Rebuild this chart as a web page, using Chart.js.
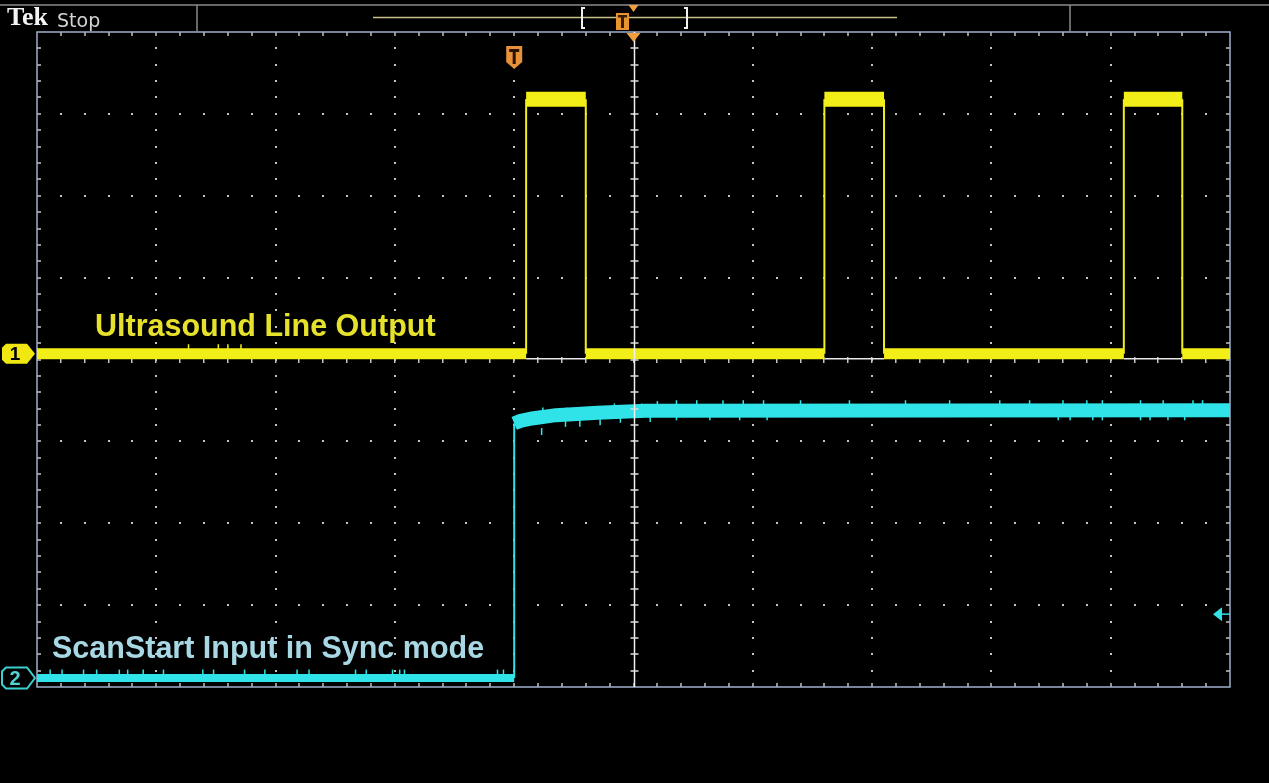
<!DOCTYPE html>
<html>
<head>
<meta charset="utf-8">
<title>Ultrasound line output vs ScanStart input</title>
<script src="https://cdn.jsdelivr.net/npm/chart.js@4.4.1/dist/chart.umd.min.js"></script>
<style>
  html, body { margin: 0; padding: 0; background: #000; overflow: hidden; }
  canvas { display: block; }
</style>
</head>
<body>
<canvas id="scope" width="1269" height="783"></canvas>
<script>
// Screen is 10 horizontal x 8 vertical divisions; values below are in divisions.
const xDivisions = 10;
const yMin = -4, yMax = 4;

// Channel 1: ultrasound line output (square pulses)
const ch1Time  = [0, 4.10, 4.10, 4.60, 4.60, 6.60, 6.60, 7.10, 7.10, 9.11, 9.11, 9.60, 9.60, 10];
const ch1Level = [0.07, 0.07, 3.18, 3.18, 0.07, 0.07, 3.18, 3.18, 0.07, 0.07, 3.18, 3.18, 0.07, 0.07];
// faint floor under each pulse (start, end pairs)
const ch1FloorTime = [4.10, 4.60, 6.60, 7.10, 9.11, 9.60];
const ch1FloorLevel = 0.01;
// small glitches on the channel 1 baseline
const ch1SpikeTime  = [1.27, 1.52, 1.60, 1.71];
const ch1SpikeLevel = [0.15, 0.15, 0.15, 0.15];

// Channel 2: ScanStart input (step with slow settling)
const ch2Time  = [0, 4.00, 4.00, 4.05, 4.15, 4.35, 4.70, 5.10, 10];
const ch2Level = [-3.89, -3.89, -0.78, -0.75, -0.72, -0.68, -0.65, -0.625, -0.62];
// noise hairs on channel 2
const ch2SpikeUpTime  = [0.11, 0.21, 0.39, 0.50, 0.69, 0.76, 0.89, 1.06, 1.39, 1.48, 1.74, 1.91, 2.18, 2.28, 2.67, 2.76, 2.98, 3.04, 3.08, 3.86, 3.91,
                         4.13, 4.24, 4.44, 4.64, 4.74, 4.84, 5.07, 5.20, 5.36, 5.53, 5.75, 5.92, 6.09, 6.40, 6.81, 7.28, 7.65, 8.07, 8.32, 8.60, 8.80, 8.93, 9.25, 9.44, 9.69, 9.77];
const ch2SpikeUpLevel = [-3.83, -3.83, -3.83, -3.83, -3.83, -3.83, -3.83, -3.83, -3.83, -3.83, -3.83, -3.83, -3.83, -3.83, -3.83, -3.83, -3.83, -3.83, -3.83, -3.83, -3.83,
                         -0.70, -0.63, -0.63, -0.63, -0.63, -0.58, -0.58, -0.55, -0.54, -0.54, -0.54, -0.54, -0.54, -0.54, -0.54, -0.54, -0.54, -0.54, -0.54, -0.54, -0.54, -0.54, -0.54, -0.54, -0.54, -0.54];
const ch2SpikeDownTime  = [4.23, 4.43, 4.55, 4.72, 4.89, 5.14, 5.36, 5.64, 5.89, 6.12, 8.56, 8.66, 8.85, 8.93, 9.25, 9.33, 9.48, 9.62];
const ch2SpikeDownLevel = [-0.88, -0.78, -0.78, -0.76, -0.73, -0.72, -0.70, -0.70, -0.70, -0.70, -0.70, -0.70, -0.70, -0.70, -0.70, -0.70, -0.70, -0.70];

// Trigger settings
const triggerTime = 4.0;
const triggerLevel = -3.11;

const labelCh1 = 'Ultrasound Line Output';
const labelCh2 = 'ScanStart Input in Sync mode';

const yellow = '#f2ee18';
const cyan = '#2fe3e8';

const pts = (xs, ys) => xs.map((t, i) => ({ x: t, y: ys[i] }));
const pairs = (xs, level) => {
  const out = [];
  for (let i = 0; i + 1 < xs.length; i += 2) {
    out.push({ x: xs[i], y: level }, { x: xs[i + 1], y: level }, { x: xs[i + 1], y: null });
  }
  return out;
};

// thin vertical edges, thick horizontal levels
const traceWidth = (high, low, split) => ctx => {
  if (ctx.p0.parsed.x === ctx.p1.parsed.x) return 2;
  return ctx.p0.parsed.y > split ? high : low;
};

const background = {
  id: 'background',
  beforeDraw(chart) {
    const c = chart.ctx;
    c.save();
    c.fillStyle = '#000';
    c.fillRect(0, 0, chart.width, chart.height);
    c.restore();
  }
};

const graticule = {
  id: 'graticule',
  beforeDatasetsDraw(chart) {
    const { ctx: c, chartArea: a, scales: { x, y } } = chart;
    c.save();
    c.fillStyle = '#c4c4c4';
    const nx = xDivisions * 5, ny = (yMax - yMin) * 5;
    // dotted division lines
    for (let i = 1; i < xDivisions; i++) {
      if (i * 2 === xDivisions) continue;
      const px = Math.round(x.getPixelForValue(i));
      for (let k = 1; k < ny; k++) {
        const py = Math.round(y.getPixelForValue(yMin + k / 5));
        c.fillRect(px - 1, py - 1, 2, 2);
      }
    }
    for (let j = yMin + 1; j < yMax; j++) {
      if (j === 0) continue;
      const py = Math.round(y.getPixelForValue(j));
      for (let k = 1; k < nx; k++) {
        const px = Math.round(x.getPixelForValue(k / 5));
        c.fillRect(px - 1, py - 1, 2, 2);
      }
    }
    // centre horizontal axis with minor ticks
    const cy = Math.round(y.getPixelForValue(0));
    for (let k = 1; k < nx; k++) {
      const px = Math.round(x.getPixelForValue(k / 5));
      c.fillRect(px - 1, cy - 3, 1.5, 6);
    }
    // frame minor ticks
    for (let k = 1; k < nx; k++) {
      const px = Math.round(x.getPixelForValue(k / 5));
      c.fillRect(px - 0.75, a.top, 1.5, 4);
      c.fillRect(px - 0.75, a.bottom - 4, 1.5, 4);
    }
    for (let k = 1; k < ny; k++) {
      const py = Math.round(y.getPixelForValue(yMin + k / 5));
      c.fillRect(a.left, py - 0.75, 4, 1.5);
      c.fillRect(a.right - 4, py - 0.75, 4, 1.5);
    }
    // frame
    c.strokeStyle = '#9eb0cc';
    c.lineWidth = 1.5;
    c.strokeRect(a.left, a.top, a.right - a.left, a.bottom - a.top);
    c.restore();
  },
  afterDatasetsDraw(chart) {
    const { ctx: c, chartArea: a, scales: { x, y } } = chart;
    c.save();
    // centre vertical axis
    const cx = Math.round(x.getPixelForValue(xDivisions / 2)) + 0.5;
    c.strokeStyle = '#f0f0f0';
    c.lineWidth = 1.5;
    c.beginPath();
    c.moveTo(cx, a.top);
    c.lineTo(cx, a.bottom);
    c.stroke();
    c.fillStyle = '#e0e0e0';
    for (let k = 1; k < (yMax - yMin) * 5; k++) {
      const py = Math.round(y.getPixelForValue(yMin + k / 5));
      c.fillRect(cx - 4, py - 0.75, 8, 1.5);
    }
    c.restore();
  }
};

function hexTag(c, x0, yc, w, h) {
  c.beginPath();
  c.moveTo(x0 + 4, yc - h / 2);
  c.lineTo(x0 + w - 8, yc - h / 2);
  c.lineTo(x0 + w, yc);
  c.lineTo(x0 + w - 8, yc + h / 2);
  c.lineTo(x0 + 4, yc + h / 2);
  c.lineTo(x0, yc + h / 2 - 4);
  c.lineTo(x0, yc - h / 2 + 4);
  c.closePath();
}

const decorations = {
  id: 'decorations',
  afterDraw(chart) {
    const { ctx: c, chartArea: a, scales: { x, y } } = chart;
    c.save();

    // status header
    c.strokeStyle = '#8a8a8a';
    c.lineWidth = 1.5;
    c.beginPath();
    c.moveTo(0, 5); c.lineTo(chart.width, 5);
    c.moveTo(197, 5); c.lineTo(197, a.top);
    c.moveTo(1070, 5); c.lineTo(1070, a.top);
    c.stroke();
    c.fillStyle = '#f4f4f4';
    c.font = 'bold 26px "Liberation Serif", serif';
    c.textBaseline = 'alphabetic';
    c.fillText('Tek', 7, 25);
    c.fillStyle = '#d4d4d4';
    c.font = '19px "DejaVu Sans", sans-serif';
    c.fillText('Stop', 57, 27);

    // record overview
    c.strokeStyle = '#c8c08a';
    c.lineWidth = 1.5;
    c.beginPath();
    c.moveTo(373, 17.5); c.lineTo(897, 17.5);
    c.stroke();
    c.strokeStyle = '#f0f0f0';
    c.lineWidth = 2;
    c.beginPath();
    c.moveTo(585, 8); c.lineTo(582, 8); c.lineTo(582, 28); c.lineTo(585, 28);
    c.moveTo(684, 8); c.lineTo(687, 8); c.lineTo(687, 28); c.lineTo(684, 28);
    c.stroke();
    c.fillStyle = '#e8942c';
    c.fillRect(616, 13, 13, 17);
    c.fillStyle = '#3a1a00';
    c.fillRect(618, 15, 9, 2.5);
    c.fillRect(621, 15, 3, 13);
    // expansion point markers
    const mx = x.getPixelForValue(xDivisions / 2);
    c.fillStyle = '#eea040';
    c.beginPath();
    c.moveTo(mx - 5, 5); c.lineTo(mx + 5, 5); c.lineTo(mx, 12); c.closePath(); c.fill();
    c.beginPath();
    c.moveTo(mx - 7, a.top + 1); c.lineTo(mx + 7, a.top + 1); c.lineTo(mx, a.top + 10); c.closePath(); c.fill();

    // trigger position marker
    const tx = x.getPixelForValue(triggerTime);
    c.fillStyle = '#e8903a';
    c.beginPath();
    c.moveTo(tx - 8, 46); c.lineTo(tx + 8, 46); c.lineTo(tx + 8, 62);
    c.lineTo(tx, 69); c.lineTo(tx - 8, 62); c.closePath(); c.fill();
    c.fillStyle = '#2a1200';
    c.fillRect(tx - 5, 49, 10, 3);
    c.fillRect(tx - 1.5, 49, 3, 15);

    // trigger level marker
    const ty = y.getPixelForValue(triggerLevel);
    c.fillStyle = cyan;
    c.beginPath();
    c.moveTo(a.right - 17, ty); c.lineTo(a.right - 8, ty - 7); c.lineTo(a.right - 8, ty + 7); c.closePath(); c.fill();
    c.strokeStyle = cyan;
    c.lineWidth = 1.5;
    c.beginPath();
    c.moveTo(a.right - 8, ty); c.lineTo(a.right, ty); c.stroke();

    // channel ground markers
    const y1 = y.getPixelForValue(ch1Level[0]);
    hexTag(c, 2, y1, 33, 20);
    c.fillStyle = '#f0e810';
    c.fill();
    c.fillStyle = '#000';
    c.font = 'bold 19px "Liberation Sans", sans-serif';
    c.textAlign = 'center';
    c.textBaseline = 'middle';
    c.fillText('1', 15, y1 + 1);

    const y2 = y.getPixelForValue(ch2Level[0]);
    hexTag(c, 2, y2, 33, 21);
    c.fillStyle = '#000';
    c.fill();
    c.strokeStyle = '#3ccfcf';
    c.lineWidth = 2;
    c.stroke();
    c.fillStyle = '#52d2d2';
    c.font = 'bold 20px "Liberation Sans", sans-serif';
    c.fillText('2', 15, y2 + 1);

    // trace annotations
    c.textAlign = 'left';
    c.textBaseline = 'alphabetic';
    c.font = 'bold 30.5px "Liberation Sans", Arial, sans-serif';
    c.fillStyle = '#e6e22c';
    c.fillText(labelCh1, 95, 336);
    c.fillStyle = '#a8d8e4';
    c.fillText(labelCh2, 52, 658);

    c.restore();
  }
};

new Chart(document.getElementById('scope'), {
  type: 'line',
  data: {
    datasets: [
      {
        label: 'CH1 floor',
        data: pairs(ch1FloorTime, ch1FloorLevel),
        borderColor: '#e8e8e8',
        borderWidth: 1.5,
        pointRadius: 0,
        spanGaps: false,
        order: 3
      },
      {
        label: labelCh1,
        data: pts(ch1Time, ch1Level),
        borderColor: yellow,
        borderWidth: 11,
        pointRadius: 0,
        segment: { borderWidth: traceWidth(15, 11, 1) },
        order: 2
      },
      {
        label: 'CH1 glitches',
        data: pts(ch1SpikeTime, ch1SpikeLevel),
        showLine: false,
        pointStyle: 'line',
        rotation: 90,
        radius: 3,
        borderWidth: 1.5,
        borderColor: yellow,
        order: 2
      },
      {
        label: labelCh2,
        data: pts(ch2Time, ch2Level),
        borderColor: cyan,
        borderWidth: 8,
        pointRadius: 0,
        segment: { borderWidth: traceWidth(14, 8, -2) },
        order: 1
      },
      {
        label: 'CH2 noise up',
        data: pts(ch2SpikeUpTime, ch2SpikeUpLevel),
        showLine: false,
        pointStyle: 'line',
        rotation: 90,
        radius: 3.5,
        borderWidth: 1.5,
        borderColor: cyan,
        order: 1
      },
      {
        label: 'CH2 noise down',
        data: pts(ch2SpikeDownTime, ch2SpikeDownLevel),
        showLine: false,
        pointStyle: 'line',
        rotation: 90,
        radius: 3.5,
        borderWidth: 1.5,
        borderColor: cyan,
        order: 1
      }
    ]
  },
  options: {
    responsive: false,
    devicePixelRatio: 1,
    animation: false,
    events: [],
    layout: { padding: { left: 37, right: 39, top: 32, bottom: 96 } },
    scales: {
      x: { type: 'linear', min: 0, max: xDivisions, display: false },
      y: { type: 'linear', min: yMin, max: yMax, display: false }
    },
    plugins: {
      legend: { display: false },
      tooltip: { enabled: false }
    },
    elements: { line: { tension: 0, borderCapStyle: 'butt' } }
  },
  plugins: [background, graticule, decorations]
});
</script>
</body>
</html>
